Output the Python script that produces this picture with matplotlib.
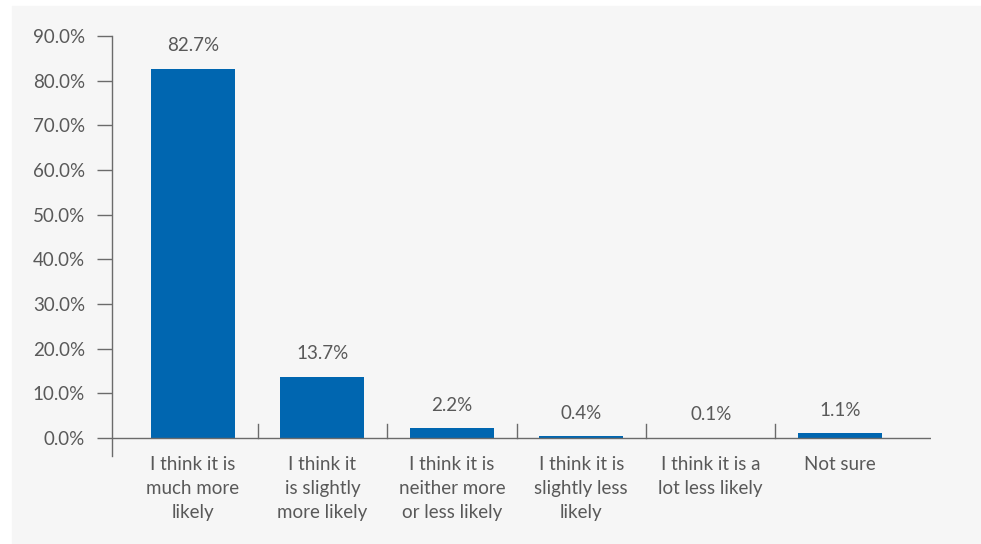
import matplotlib

matplotlib.use("Agg")
import matplotlib.pyplot as plt
from matplotlib.patches import Rectangle

categories = [
    "I think it is\nmuch more\nlikely",
    "I think it\nis slightly\nmore likely",
    "I think it is\nneither more\nor less likely",
    "I think it is\nslightly less\nlikely",
    "I think it is a\nlot less likely",
    "Not sure",
]
shares = [82.7, 13.7, 2.2, 0.4, 0.1, 1.1]
y_ticks = [0, 10, 20, 30, 40, 50, 60, 70, 80, 90]

BAR = "#0066b0"
TEXT = "#595959"
AXIS = "#6b6b6b"
PANEL = "#f6f6f6"
FS = 13.5

plt.rcParams["font.family"] = ["Lato", "DejaVu Sans"]

fig = plt.figure(figsize=(9.81, 5.44), dpi=100)
fig.patches.append(Rectangle((12 / 981, 1 / 544), 968 / 981, 537 / 544,
                             transform=fig.transFigure, color=PANEL, zorder=-5))

ax = fig.add_axes([112 / 981, 88 / 544, 818.7 / 981, 420 / 544])
ax.set_facecolor("none")
ax.set_zorder(2)

x = list(range(len(shares)))
ax.bar(x, shares, width=0.65, color=BAR, zorder=2)
for xi, v in zip(x, shares):
    ax.annotate(f"{v:.1f}%", (xi, v), xytext=(0, 16.5), textcoords="offset points",
                ha="center", va="center", fontsize=FS, color=TEXT)

ax.set_xlim(-0.626, 5.70)
ax.set_ylim(-4.0, 90)

# horizontal axis line at zero with category separators rising from it
ax.axhline(0, color=AXIS, lw=1, zorder=3)
for b in [0.5, 1.5, 2.5, 3.5, 4.5]:
    ax.plot([b, b], [0, 3.2], color=AXIS, lw=1, zorder=3)

for s in ["top", "right", "bottom"]:
    ax.spines[s].set_visible(False)
ax.spines["left"].set_color(AXIS)
ax.spines["left"].set_linewidth(1)

ax.set_yticks(y_ticks)
ax.set_yticklabels([f"{t:.1f}%" for t in y_ticks])
ax.tick_params(axis="y", length=10.5, width=1, color=AXIS, labelcolor=TEXT,
               labelsize=FS, pad=9)

ax.set_xticks([])
for xi, lab in zip(x, categories):
    ax.text(xi, -4.1, lab, ha="center", va="top", fontsize=FS, color=TEXT,
            linespacing=1.5)

fig.savefig("out.png", dpi=100)
